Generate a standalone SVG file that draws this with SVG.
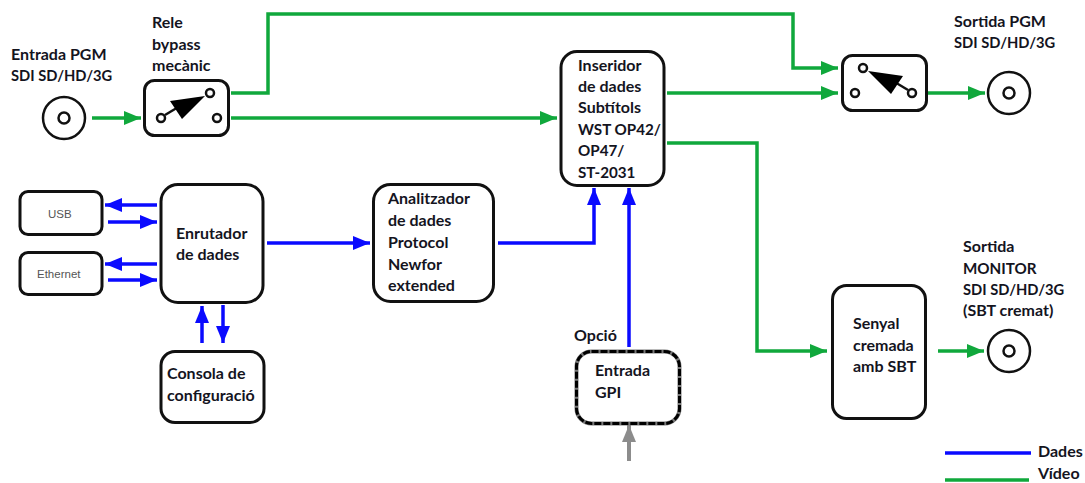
<svg xmlns="http://www.w3.org/2000/svg" width="1085" height="483" viewBox="0 0 1085 483">
<style>
text{font-family:"Lato","Carlito","Liberation Sans",sans-serif;font-weight:700;font-size:16px;fill:#14141e}
.c{font-size:15.2px}
.s{font-size:14.7px}
.sm{font-family:"Liberation Sans",Arial,sans-serif;font-weight:400;font-size:11.5px;fill:#555}
.box{fill:#fff;stroke:#111;stroke-width:3}
.thin{fill:none;stroke:#111;stroke-width:2.5}
.g{fill:none;stroke:#10a83c;stroke-width:3.5}
.b{fill:none;stroke:#0a0aff;stroke-width:3.5}
.y{fill:none;stroke:#8c8c8c;stroke-width:4}
</style>
<defs>
<marker id="ag" markerUnits="userSpaceOnUse" markerWidth="18" markerHeight="14" refX="17" refY="7" orient="auto"><path d="M0 0L17 7L0 14Z" fill="#10a83c"/></marker>
<marker id="ab" markerUnits="userSpaceOnUse" markerWidth="18" markerHeight="14" refX="17" refY="7" orient="auto"><path d="M0 0L17 7L0 14Z" fill="#0a0aff"/></marker>
<marker id="ay" markerUnits="userSpaceOnUse" markerWidth="18" markerHeight="14" refX="17" refY="7" orient="auto"><path d="M0 0L17 7L0 14Z" fill="#8c8c8c"/></marker>
</defs>
<g id="connectors">
<path class="g" marker-end="url(#ag)" d="M92 118H141"/>
<path class="g" d="M231 93H268V14H793V68H838" marker-end="url(#ag)"/>
<path class="g" d="M231 118H557" marker-end="url(#ag)"/>
<path class="g" d="M667 93H838" marker-end="url(#ag)"/>
<path class="g" d="M667 143H757V351H827" marker-end="url(#ag)"/>
<path class="g" d="M928 93H985" marker-end="url(#ag)"/>
<path class="g" d="M938 351H984" marker-end="url(#ag)"/>
<path class="b" d="M157 205H105" marker-end="url(#ab)"/>
<path class="b" d="M108 222H157" marker-end="url(#ab)"/>
<path class="b" d="M157 264H105" marker-end="url(#ab)"/>
<path class="b" d="M108 280H157" marker-end="url(#ab)"/>
<path class="b" d="M202 343V306" marker-end="url(#ab)"/>
<path class="b" d="M223 305V343" marker-end="url(#ab)"/>
<path class="b" d="M267 243H370" marker-end="url(#ab)"/>
<path class="b" d="M498 243H594V188" marker-end="url(#ab)"/>
<path class="b" d="M629 347V188" marker-end="url(#ab)"/>
<path class="y" d="M629 461V425" marker-end="url(#ay)"/>
</g>
<g id="entrada-pgm">
<text x="11" y="60">Entrada PGM</text><text class="s" x="11" y="81">SDI SD/HD/3G</text>
<circle class="thin" cx="64" cy="118" r="21"/><circle class="thin" cx="64" cy="118" r="5.500"/>
</g>
<g id="rele">
<text x="152" y="28">Rele</text><text x="152" y="50">bypass</text><text x="152" y="71">mecànic</text>
<rect class="box" x="144.500" y="80.500" width="84" height="55" rx="10"/>
<path class="thin" d="M165 115L180 106"/>
<path d="M205 96L170 101L182 119Z" fill="#000"/>
<circle class="thin" cx="161" cy="118" r="4"/><circle class="thin" cx="210" cy="93" r="4"/><circle class="thin" cx="217" cy="118" r="4"/>
</g>
<g id="inseridor">
<rect class="box" x="561" y="51.500" width="103" height="134" rx="16"/>
<text x="578" y="71">Inseridor</text><text x="578" y="92">de dades</text><text x="578" y="113">Subtítols</text><text class="c" x="578" y="135">WST OP42/</text><text class="c" x="578" y="156">OP47/</text><text class="c" x="578" y="178">ST-2031</text>
</g>
<g id="switch-sortida">
<rect class="box" x="842.500" y="55.500" width="84" height="55" rx="10"/>
<path class="thin" d="M908 90L893 81"/>
<path d="M868 71L903 76L891 94Z" fill="#000"/>
<circle class="thin" cx="863" cy="68" r="4"/><circle class="thin" cx="855" cy="93" r="4"/><circle class="thin" cx="912" cy="93" r="4"/>
</g>
<g id="sortida-pgm">
<text x="954" y="27">Sortida PGM</text><text class="s" x="954" y="48">SDI SD/HD/3G</text>
<circle class="thin" cx="1009" cy="93" r="21"/><circle class="thin" cx="1009" cy="93" r="5.500"/>
</g>
<g id="usb"><rect class="box" x="20" y="191.500" width="82" height="43" rx="8"/><text class="sm" x="48" y="218">USB</text></g>
<g id="ethernet"><rect class="box" x="20" y="252.500" width="82" height="42" rx="8"/><text class="sm" x="37" y="278">Ethernet</text></g>
<g id="enrutador">
<rect class="box" x="161" y="184.500" width="102" height="118" rx="17"/>
<text x="176" y="239">Enrutador</text><text x="176" y="260">de dades</text>
</g>
<g id="consola">
<rect class="box" x="161" y="351.500" width="103" height="71" rx="14"/>
<text x="167" y="379">Consola de</text><text x="167" y="401">configuració</text>
</g>
<g id="analitzador">
<rect class="box" x="373.500" y="184.500" width="120" height="117" rx="17"/>
<text x="388" y="204">Analitzador</text><text x="388" y="226">de dades</text><text x="388" y="248">Protocol</text><text x="388" y="270">Newfor</text><text x="388" y="291">extended</text>
</g>
<g id="gpi">
<text x="574" y="341">Opció</text>
<rect x="576.500" y="351.500" width="103" height="72" rx="15" fill="#fff" stroke="#777" stroke-width="4"/>
<rect x="576.500" y="351.500" width="103" height="72" rx="15" fill="none" stroke="#000" stroke-width="3" stroke-dasharray="7 2"/>
<text x="595" y="376">Entrada</text><text x="595" y="398">GPI</text>
</g>
<g id="senyal">
<rect class="box" x="832.500" y="285.500" width="93" height="133" rx="14"/>
<text x="853" y="329">Senyal</text><text x="853" y="351">cremada</text><text x="853" y="372">amb SBT</text>
</g>
<g id="sortida-monitor">
<text x="963" y="252">Sortida</text><text class="c" x="963" y="274">MONITOR</text><text class="s" x="963" y="295">SDI SD/HD/3G</text><text x="963" y="316">(SBT cremat)</text>
<circle class="thin" cx="1009" cy="351" r="21"/><circle class="thin" cx="1009" cy="351" r="5.500"/>
</g>
<g id="llegenda">
<path class="b" d="M945 453H1031"/><path class="g" d="M945 480H1029"/>
<text x="1038" y="457">Dades</text><text x="1038" y="479">Vídeo</text>
</g>
</svg>
